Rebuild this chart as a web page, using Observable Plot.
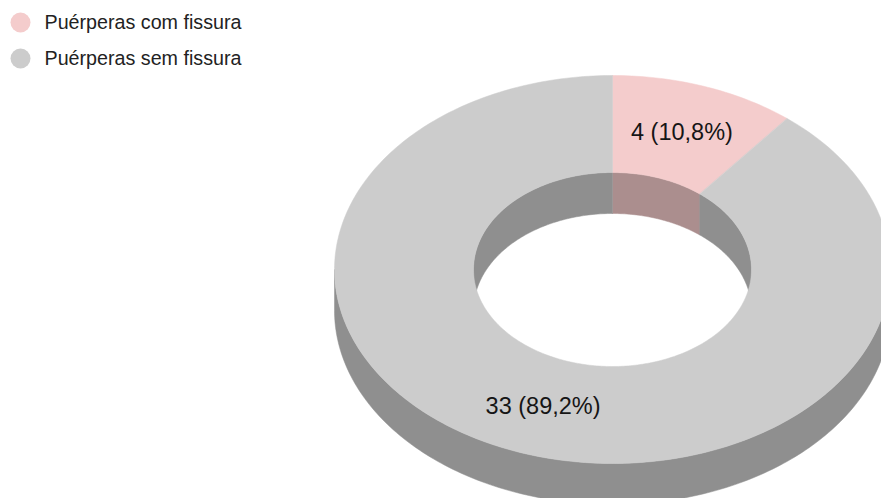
<!DOCTYPE html>
<html>
<head>
<meta charset="utf-8">
<style>
  html, body { margin: 0; padding: 0; background: #fff; overflow: hidden; }
</style>
<script src="https://cdn.jsdelivr.net/npm/d3@7"></script>
<script src="https://cdn.jsdelivr.net/npm/@observablehq/plot@0.6"></script>
</head>
<body>
<script>
// Puérperas by presence of nipple fissure
const categories = ["Puérperas com fissura", "Puérperas sem fissura"];
const counts = [4, 33];
const percentLabels = ["10,8%", "89,2%"];
const topColors = ["#f4cccc", "#cccccc"];
const wallColors = ["#ab8e8e", "#8f8f8f"];

const width = 881, height = 498;
// Ring centre and radii in pixels; the x/y scales map unit-disc space onto them
const cx = 612, cy = 269, rx = 278, ry = 194;
const innerRatio = 0.5;     // hole radius over outer radius
const depth = 41 / ry;      // extrusion height in y units

const total = d3.sum(counts);
const starts = d3.cumsum([0, ...counts]);
const pointAt = (r, frac, drop = 0) => {
  const a = 2 * Math.PI * frac;
  return {x: r * Math.sin(a), y: r * Math.cos(a) - drop};
};
const fracs = (a, b) => {
  const n = Math.max(2, Math.ceil((b - a) * 360));
  return d3.range(n + 1).map((i) => a + (b - a) * i / n);
};

// Top faces of the ring, one polygon per category
const slices = categories.map((category, i) => {
  const a = starts[i] / total, b = starts[i + 1] / total;
  return {
    i, a, b, category,
    ring: [
      ...fracs(a, b).map((f) => pointAt(1, f)),
      ...fracs(a, b).reverse().map((f) => pointAt(innerRatio, f))
    ]
  };
});

// One band between a rim and the same rim dropped by the extrusion height
const wall = (r, a, b) => [
  ...fracs(a, b).map((f) => pointAt(r, f)),
  ...fracs(a, b).reverse().map((f) => pointAt(r, f, depth))
];

// Inner wall shows on the far half of the hole, outer wall on the near half of the rim
const innerWalls = slices.flatMap((s) => {
  const parts = [];
  if (s.a < 0.25) parts.push({i: s.i, pts: wall(innerRatio, s.a, Math.min(s.b, 0.25))});
  if (s.b > 0.75) parts.push({i: s.i, pts: wall(innerRatio, Math.max(s.a, 0.75), s.b)});
  return parts;
});
const outerWalls = slices.flatMap((s) => {
  const a = Math.max(s.a, 0.25), b = Math.min(s.b, 0.75);
  return a < b ? [{i: s.i, pts: wall(1, a, b)}] : [];
});

const polygon = (pts, fill) =>
  Plot.line(pts, {x: "x", y: "y", curve: "linear-closed", fill, stroke: fill, strokeWidth: 0.5});

const labels = slices.map((s) => {
  const p = pointAt((1 + innerRatio) / 2, (s.a + s.b) / 2);
  return {...p, text: `${counts[s.i]} (${percentLabels[s.i]})`};
});

const font = "Liberation Sans, Arial, sans-serif";

const chart = Plot.plot({
  width, height,
  margin: 0,
  style: {background: "#fff"},
  x: {domain: [-cx / rx, (width - cx) / rx], axis: null},
  y: {domain: [(cy - height) / ry, cy / ry], axis: null},
  marks: [
    // Walls first: the top faces cover whatever overhangs them
    ...outerWalls.map((w) => polygon(w.pts, wallColors[w.i])),
    ...innerWalls.map((w) => polygon(w.pts, wallColors[w.i])),
    ...slices.map((s) => polygon(s.ring, topColors[s.i])),
    // Value labels at the middle of each slice
    Plot.text(labels, {
      x: "x", y: "y", text: "text",
      fontSize: 23.5, fontFamily: font, fill: "#151515"
    }),
    // Legend in the top-left corner
    ...categories.flatMap((c, i) => [
      Plot.dot([c], {
        frameAnchor: "top-left", dx: 20, dy: 22 + 36 * i,
        r: 10, fill: topColors[i]
      }),
      Plot.text([c], {
        frameAnchor: "top-left", dx: 44, dy: 22 + 36 * i,
        text: (d) => d, textAnchor: "start", lineAnchor: "middle",
        fontSize: 19.7, fontFamily: font, fill: "#222"
      })
    ])
  ]
});
document.body.appendChild(chart);
</script>
</body>
</html>
